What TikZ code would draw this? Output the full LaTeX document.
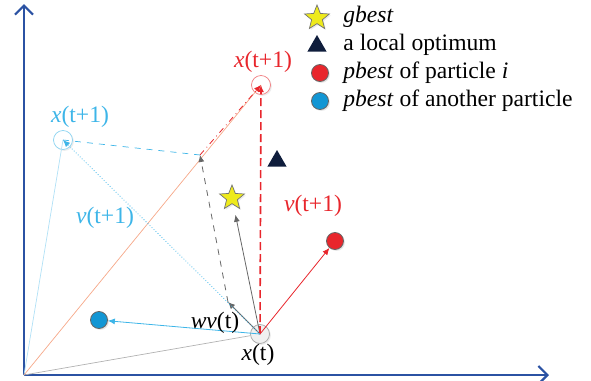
\documentclass[tikz,border=0pt]{standalone}
\usepackage{fontspec}
\setmainfont{Liberation Serif}
\newfontfamily\figfont{Liberation Serif}
\usetikzlibrary{arrows.meta,shapes.geometric,shadows}
\definecolor{axis}{HTML}{2B52A3}
\definecolor{pred}{HTML}{E8262C}
\definecolor{pcyan}{HTML}{3DB5E8}
\definecolor{pblue}{HTML}{1296D4}
\definecolor{gold}{HTML}{EEEA1C}
\definecolor{navy}{HTML}{0F1D3C}
\definecolor{salmon}{HTML}{F6A889}
\tikzset{axisline/.style={draw=axis,line width=1.1pt,-{Straight Barb[length=4.5pt,width=9pt]}},vec/.style={-{Latex[length=3.5pt,width=3pt]},line width=0.4pt},faint/.style={line width=0.35pt},part/.style={circle,draw,fill=white,minimum size=9.5pt,inner sep=0pt,line width=0.35pt,drop shadow={opacity=0.15,shadow xshift=0.7pt,shadow yshift=-0.7pt}},dot/.style={circle,draw=black!60,minimum size=8.5pt,inner sep=0pt,line width=0.4pt,drop shadow={opacity=0.2,shadow xshift=0.7pt,shadow yshift=-0.7pt}},best/.style={star,star points=5,star point ratio=2.3,draw=black!55,fill=gold,minimum size=13pt,inner sep=0pt,line width=0.35pt,drop shadow={opacity=0.15,shadow xshift=0.7pt,shadow yshift=-0.7pt}},lopt/.style={regular polygon,regular polygon sides=3,fill=navy,minimum size=11pt,inner sep=0pt},lbl/.style={font=\figfont\fontsize{11.8}{14}\selectfont,inner sep=1pt},key/.style={lbl,anchor=west}}

\begin{document}
\begin{tikzpicture}[x=0.5pt,y=-0.5pt]
\useasboundingbox (0,0) rectangle (591,381);
% axes
\coordinate (o) at (24,375);\coordinate (ytop) at (24,4);\coordinate (xend) at (549,375);
\draw[axisline] (o) -- (ytop);\draw[axisline] (o) -- (xend);
% particles and optima
\coordinate (w) at (228,302);\coordinate (g) at (200,155);
\node[best] (gb) at (232,198) {};
\node[lopt] (lo) at (277,161) {};
\node[dot,fill=pred] (pi) at (335,241) {};
\node[dot,fill=pblue] (pa) at (99,320) {};
\node[part,draw=black!35,fill=black!6] (xt) at (260,334) {};
\node[part,draw=pred!60] (xr) at (261,85) {};
\node[part,draw=pcyan!60] (xc) at (63,140) {};
% position vectors
\draw[faint,black!30] (o) -- (xt);
\draw[faint,pcyan!40] (o) -- (xc.center);
\draw[faint,salmon] (o) -- (xr.center);
% velocity components
\draw[vec,black!60] (xt.center) -- (w);
\draw[vec,black!60,dashed] (w) -- (g);
\draw[vec,black!60,shorten >=5pt] (xt.center) -- (gb);
\draw[vec,pred] (xt.center) -- (pi);
\draw[vec,pcyan] (xt.center) -- (pa);
\draw[vec,pred,line width=0.8pt,dash pattern=on 4pt off 2pt] (xt.center) -- (xr.center);
\draw[vec,pred,dash dot] (g) -- (xr.center);
\draw[faint,pcyan,dashed] (xc.center) -- (g);
\draw[vec,pcyan,densely dotted] (xt.center) -- (xc.center);
% labels
\node[lbl,text=pred] (lxr) at (263,62) {\textit{x}(t+1)};
\node[lbl,text=pcyan] (lxc) at (80,117) {\textit{x}(t+1)};
\node[lbl,text=pcyan] (lvc) at (105,218) {\textit{v}(t+1)};
\node[lbl,text=pred] (lvr) at (313,206) {\textit{v}(t+1)};
\node[lbl] (lw) at (215,323) {\textit{wv}(t)};
\node[lbl] (lxt) at (258,355) {\textit{x}(t)};
% legend
\node[best] (kg) at (317,18) {};\node[key] at (341,17) {\textit{gbest}};
\node[lopt] (kl) at (317,46) {};\node[key] at (341,45) {a local optimum};
\node[dot,fill=pred] (kr) at (320,73) {};\node[key] at (341,73) {\textit{pbest} of particle \textit{i}};
\node[dot,fill=pblue] (kb) at (320,101) {};\node[key] at (341,101) {\textit{pbest} of another particle};
\end{tikzpicture}
\end{document}
